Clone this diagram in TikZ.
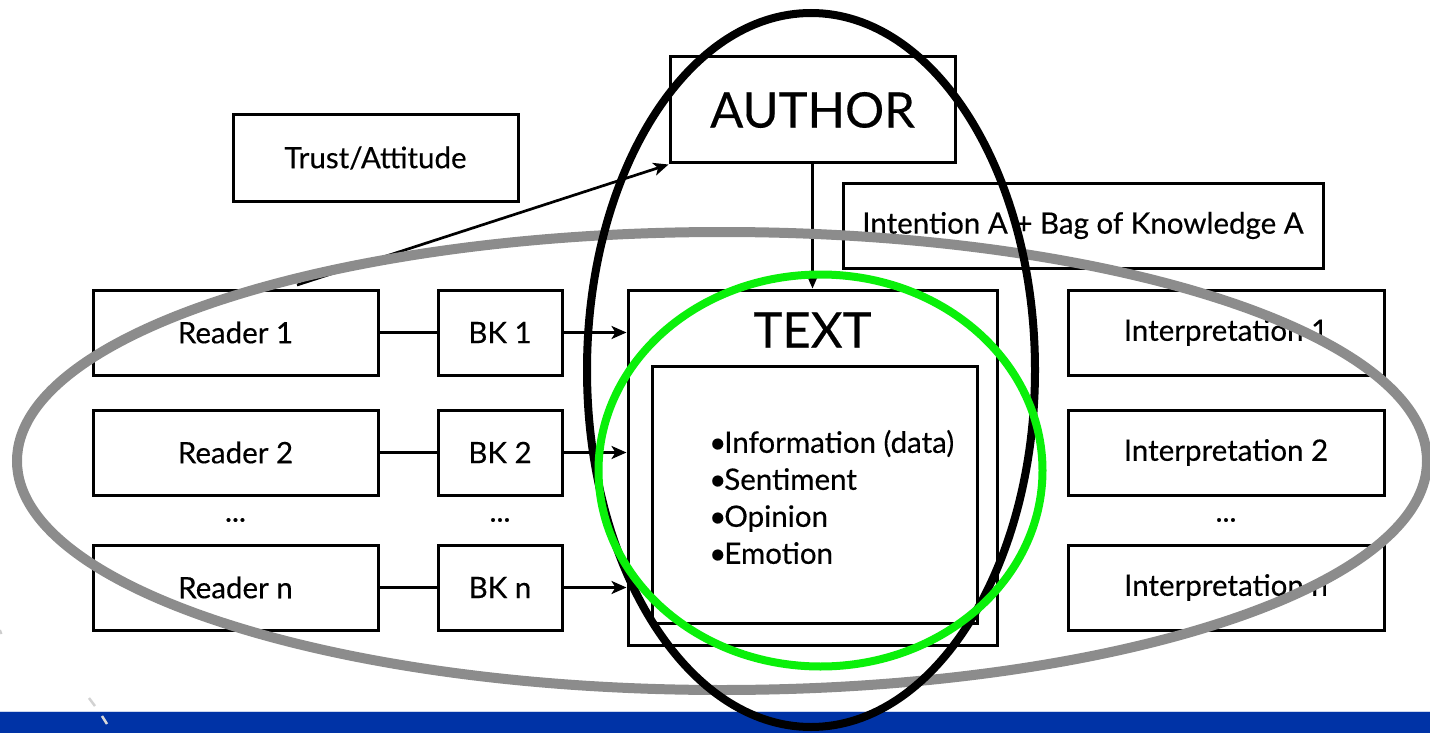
\documentclass[tikz,border=0pt]{standalone}
\usepackage{fontspec}
\setmainfont{Lato}
\usetikzlibrary{arrows.meta}
\definecolor{barblue}{RGB}{0,51,166}
\definecolor{ellgray}{RGB}{140,140,140}
\definecolor{ellgreen}{RGB}{10,240,10}
\newcommand{\heavier}{\addfontfeatures{FakeBold=0.35}}
\newcommand{\bul}{•\kern-2pt}
\tikzset{
  box/.style={draw, line width=3pt, fill=white, inner sep=0pt},
  lbl/.style={font=\fontsize{29.5}{34}\selectfont\heavier, inner sep=0pt},
  biglbl/.style={font=\fontsize{49}{52}\selectfont\heavier, inner sep=0pt},
  conn/.style={line width=2.7pt},
  arr/.style={line width=2.7pt, -{Stealth[length=15pt,width=13pt,inset=4pt]}},
}
\begin{document}
\begin{tikzpicture}[x=1pt,y=-1pt]
\useasboundingbox (0,0) rectangle (1430,733);
% blue bar and marks
\fill[barblue] (0,711) rectangle (1430,733);
\draw[white!80!barblue, line width=1pt] (0,711.5) -- (1430,711.5);
\draw[gray!35, line width=2.5pt] (89,698) -- (95,706);
\draw[gray!30, line width=2.5pt] (102,716) -- (107,724);
\draw[gray!40, line width=2pt] (0,630) -- (1.5,634);
% boxes
\node[box, minimum width=285pt, minimum height=86pt, lbl] (trust) at (375.5,158) {Trust/Attitude};
\node[box, minimum width=285pt, minimum height=106pt, biglbl] (author) at (812.5,110) {AUTHOR};
\node[box, minimum width=480pt, minimum height=85pt, lbl] (intent) at (1083,225.5) {Intention A + Bag of Knowledge A};
\node[box, minimum width=285pt, minimum height=85pt, lbl] (r1) at (235.5,332.5) {Reader 1};
\node[box, minimum width=285pt, minimum height=85pt, lbl] (r2) at (235.5,452.5) {Reader 2};
\node[box, minimum width=285pt, minimum height=85pt, lbl] (rn) at (235.5,587.5) {Reader n};
\node[box, minimum width=124pt, minimum height=85pt, lbl] (bk1) at (500,332.5) {BK 1};
\node[box, minimum width=124pt, minimum height=85pt, lbl] (bk2) at (500,452.5) {BK 2};
\node[box, minimum width=124pt, minimum height=85pt, lbl] (bkn) at (500,587.5) {BK n};
\node[box, minimum width=316pt, minimum height=85pt, lbl] (i1) at (1226,332.5) {Interpretation 1};
\node[box, minimum width=316pt, minimum height=85pt, lbl] (i2) at (1226,452.5) {Interpretation 2};
\node[box, minimum width=316pt, minimum height=85pt, lbl] (in) at (1226,587.5) {Interpretation n};
\node[lbl] (d1) at (235.5,520) {...};
\node[lbl] (d2) at (500,520) {...};
\node[lbl] (d3) at (1226,520) {...};
\node[box, minimum width=369pt, minimum height=355pt] (text) at (812.5,467.5) {};
\node[biglbl] (textlbl) at (812.5,330) {TEXT};
\node[box, minimum width=325pt, minimum height=257pt] (inner) at (814.5,494.5) {};
\node[font=\fontsize{29.5}{37}\selectfont\heavier, align=left, anchor=west, inner sep=0pt] (list) at (709,497)
  {\bul Information (data)\\\bul Sentiment\\\bul Opinion\\\bul Emotion};
% connectors
\draw[conn] (r1) -- (bk1);
\draw[conn] (r2) -- (bk2);
\draw[conn] (rn) -- (bkn);
\draw[arr] (bk1.east) -- (bk1.east -| text.west);
\draw[arr] (bk2.east) -- (bk2.east -| text.west);
\draw[arr] (bkn.east) -- (bkn.east -| text.west);
\draw[arr] (author.south) -- (text.north);
\coordinate (tstart) at (297,285);
\draw[arr] (tstart) -- (author.south west);
% ellipses
\draw[ellgray, line width=10pt] (722,461) ellipse [x radius=705pt, y radius=229pt];
\draw[black, line width=8pt] (811,370) ellipse [x radius=224pt, y radius=357pt];
\draw[ellgreen, line width=8pt] (820.5,470.5) ellipse [x radius=222pt, y radius=196pt];
\end{tikzpicture}
\end{document}
